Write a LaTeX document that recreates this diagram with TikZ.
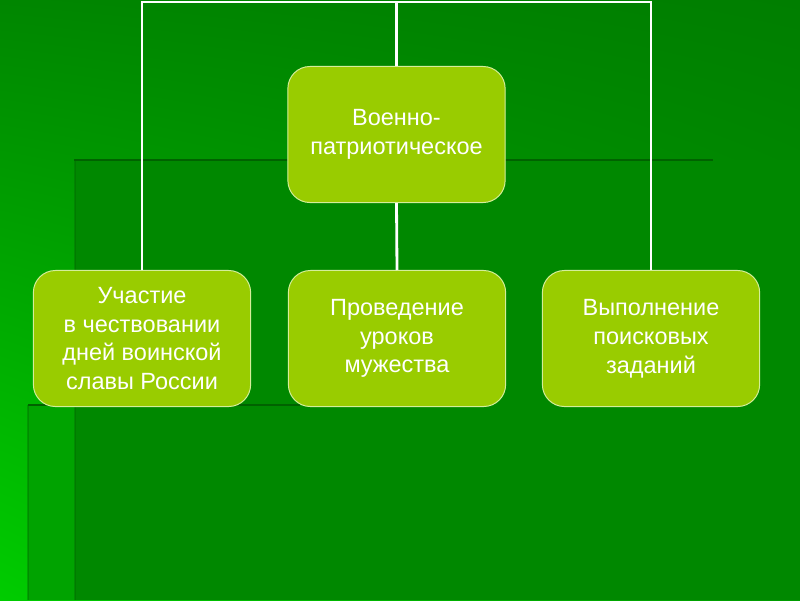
\documentclass[tikz,border=0pt]{standalone}
\usepackage{fontspec}
\setmainfont{Liberation Sans}
\usepackage{xcolor}
\definecolor{leaf}{HTML}{99CC00}
\definecolor{leafrim}{HTML}{D4EE9A}
\definecolor{moss}{HTML}{008800}
\definecolor{mossdark}{HTML}{006200}
\definecolor{grass}{HTML}{00A300}
\definecolor{skyL}{HTML}{008600}
\definecolor{skyR}{HTML}{007E00}
\definecolor{footL}{HTML}{00CC00}
\definecolor{footR}{HTML}{009C00}
\usepackage{tikz}
\usetikzlibrary{positioning,shadings}

\begin{document}
\begin{tikzpicture}[x=0.025cm,y=-0.025cm,
  topic/.style={rectangle,rounded corners=5.5mm,draw=leafrim,line width=0.7pt,fill=leaf,
    text=white,minimum width=5.43cm,minimum height=3.4cm,align=center,
    font=\fontsize{16.7}{20.5}\selectfont},
  link/.style={white,line width=2pt},
  seam/.style={mossdark,line width=2pt},
  faint/.style={mossdark,line width=1.8pt,opacity=0.35}]
  % backdrop
  \useasboundingbox (0,0) rectangle (800,600);
  \shade[upper left=skyL,upper right=skyR,lower left=footL,lower right=footR]
    (0,0) rectangle (800,600);
  \fill[moss] (75,160) rectangle (800,600);
  \fill[grass] (28,405) rectangle (75,600);
  \draw[faint] (75,600) -- (75,161);
  \draw[faint] (28,600) -- (28,405);
  \draw[seam] (74,160) -- (713,160);
  \draw[seam] (28,405) -- (300,405);
  % boxes
  \node[topic] (vpv) at (396.5,134.5) {Военно-\\патриотическое};
  \node[topic] (uch) at (142,338.5) {Участие\\ в чествовании\\дней воинской\\славы России};
  \node[topic] (pro) at (397,338.5) {Проведение\\уроков\\мужества};
  \node[topic] (vyp) at (651,338.5) {Выполнение\\поисковых\\заданий};
  % links
  \coordinate (rail) at (396.5,2);
  \draw[link] (vpv.north) -- (rail);
  \draw[link] (uch.north) |- (rail) -| (vyp.north);
  \draw[link] (vpv.south) -- (pro.north);
\end{tikzpicture}
\end{document}
